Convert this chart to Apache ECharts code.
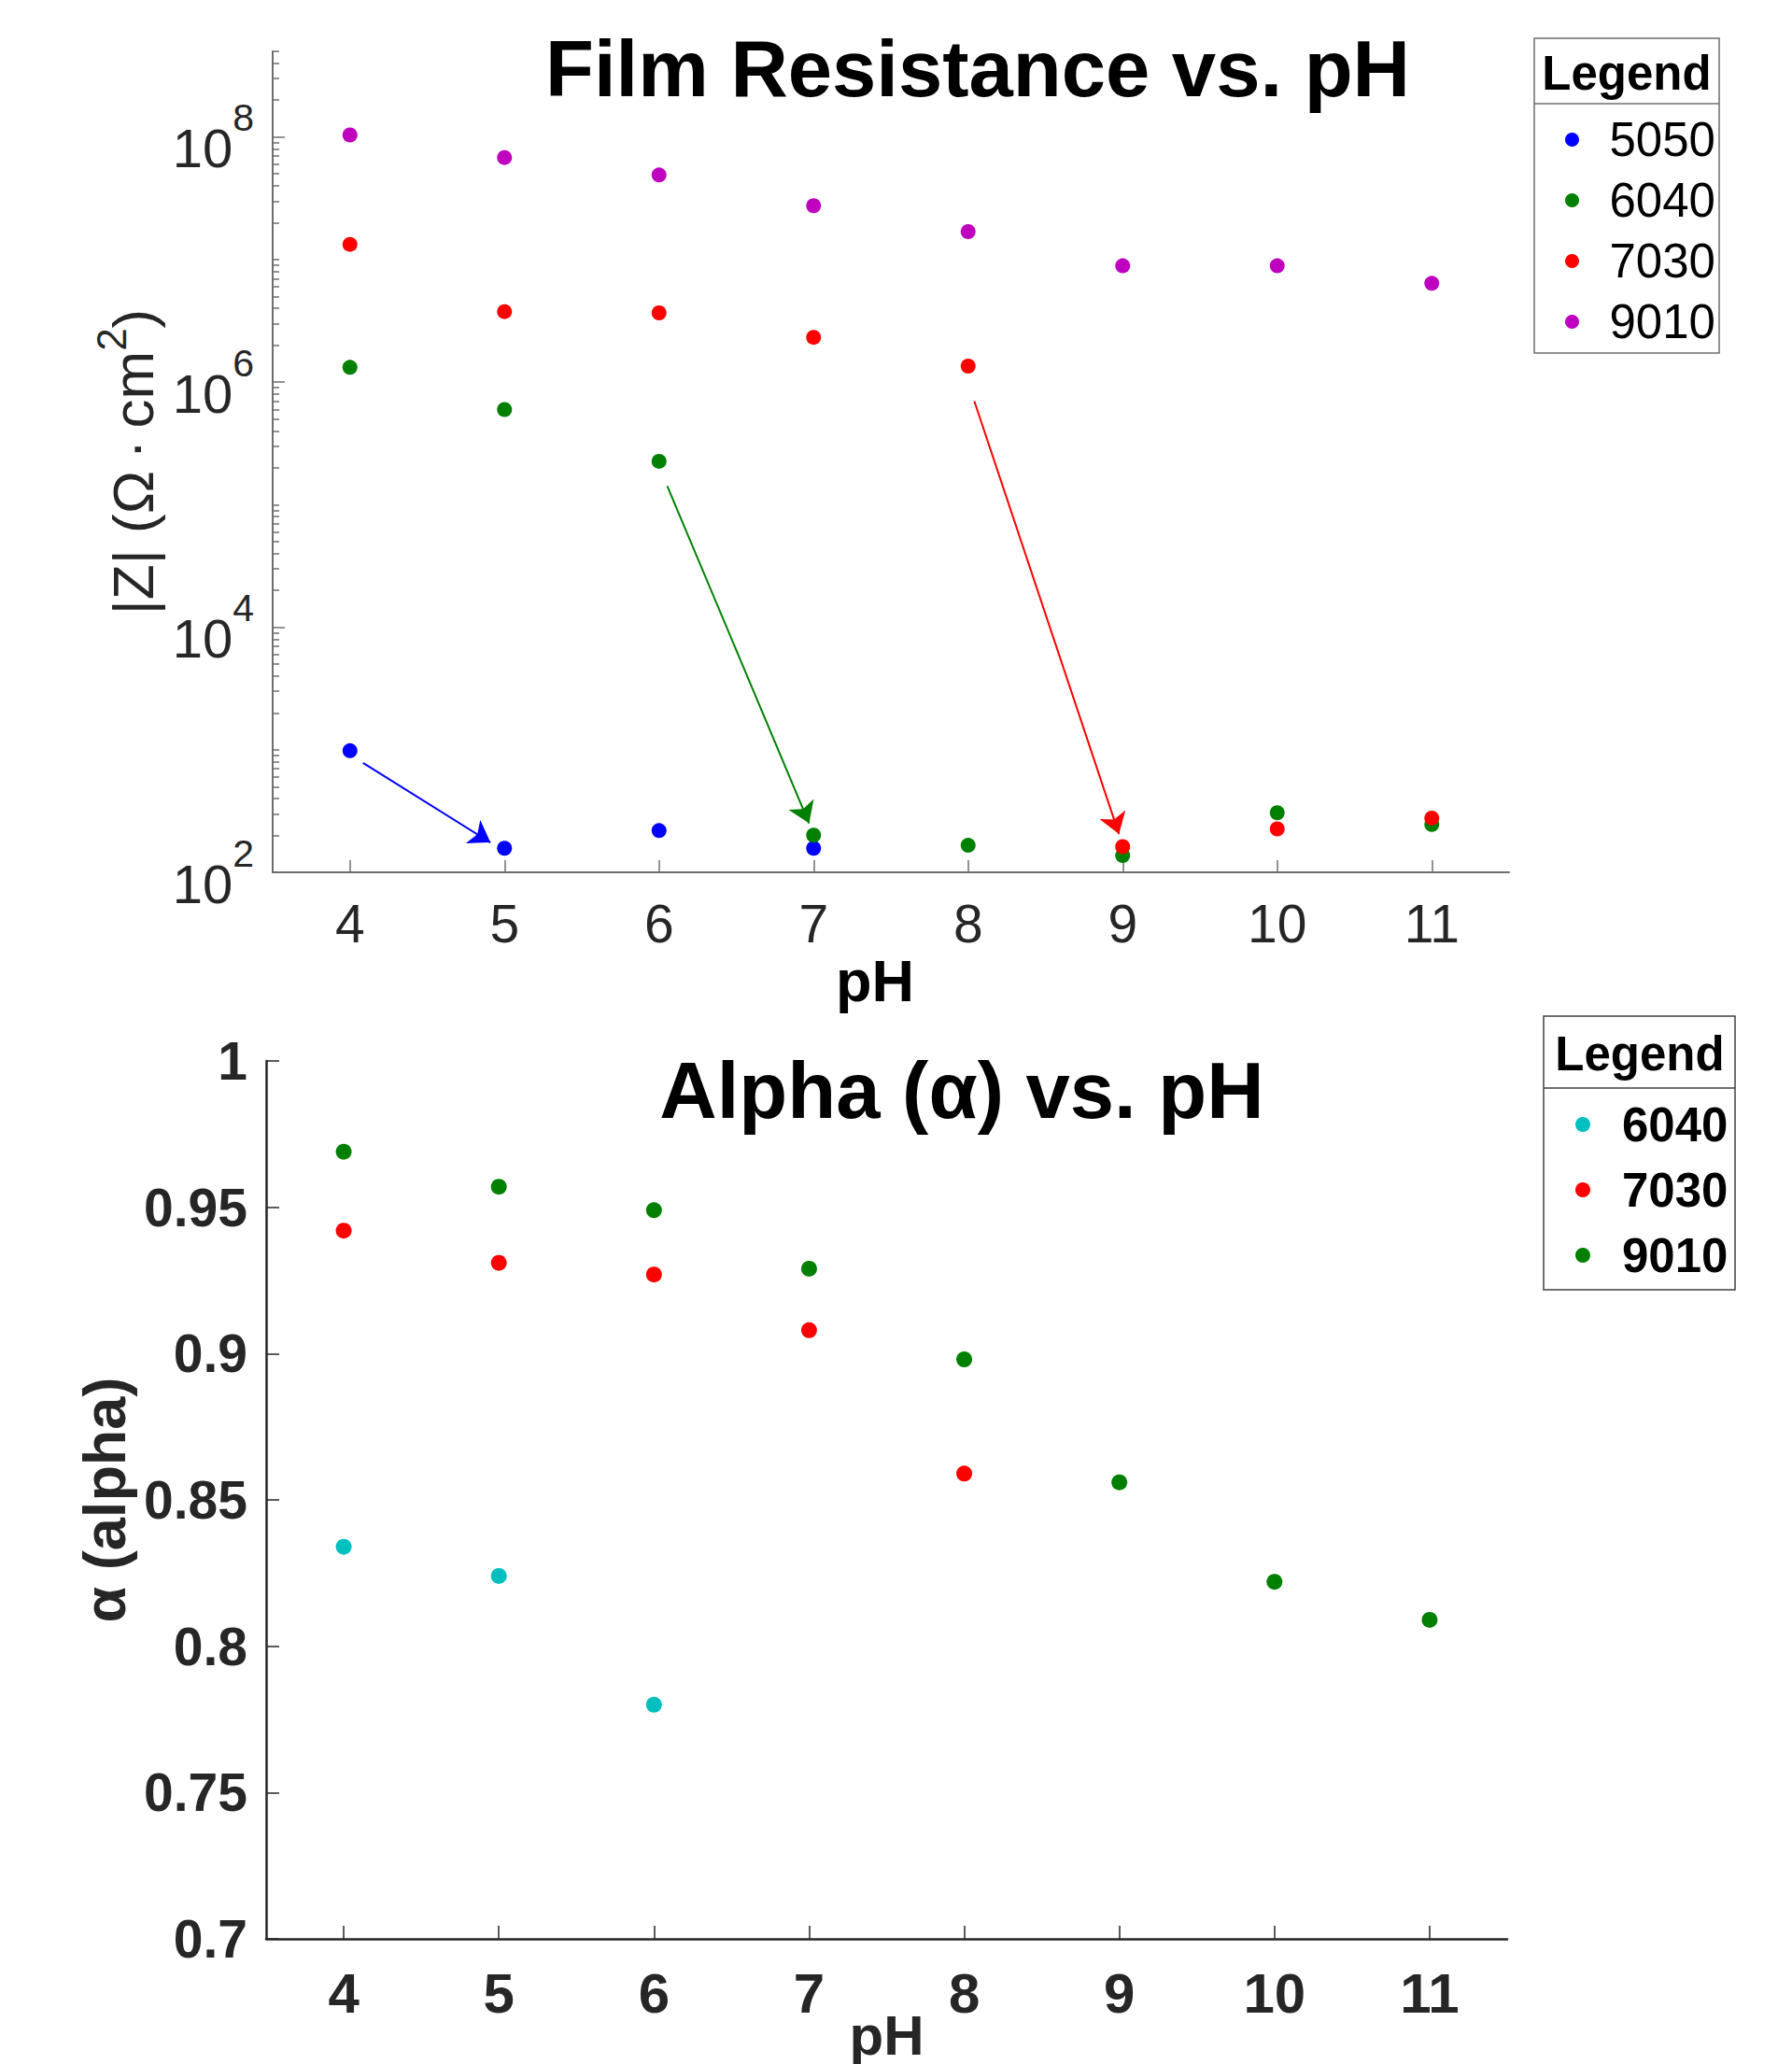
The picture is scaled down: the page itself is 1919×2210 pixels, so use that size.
<!DOCTYPE html>
<html><head><meta charset="utf-8">
<script src="https://cdn.jsdelivr.net/npm/echarts@6/dist/echarts.min.js"></script>
<style>html,body{margin:0;padding:0;background:#fff}#c{width:1919px;height:2210px}</style>
</head><body><div id="c"></div>
<script>
// ---------- data ----------
const pH = [4, 5, 6, 7, 8, 9, 10, 11];
const xTicks = [4, 5, 6, 7, 8, 9, 10, 11];
const zMajorTicks = [1e2, 1e4, 1e6, 1e8];
const alphaTicks = [0.7, 0.75, 0.8, 0.85, 0.9, 0.95, 1];

// Film resistance |Z| (Ohm cm^2)
const z5050 = [982, 157, 219, 157, null, null, null, null];
const z6040 = [1.32e6, 5.97e5, 2.26e5, 201, 166, 137, 306, 246];
const z7030 = [1.33e7, 3.76e6, 3.67e6, 2.32e6, 1.35e6, 162, 226, 277];
const z9010 = [1.04e8, 6.8e7, 4.9e7, 2.75e7, 1.69e7, 8.9e6, 8.9e6, 6.4e6];

// arrows [start, end] in data coords
const arrow5050 = [[4.085, 781], [4.909, 175]];
const arrow6040 = [[6.053, 1.42e5], [6.971, 251]];
const arrow7030 = [[8.04, 7.0e5], [8.976, 205]];

// Alpha
const a6040 = [0.834, 0.824, 0.780, null, null, null, null, null];
const a7030 = [0.942, 0.931, 0.927, 0.908, 0.859, null, null, null];
const a9010 = [0.969, 0.957, 0.949, 0.929, 0.898, 0.856, 0.822, 0.809];

// minor tick values for the log axis (2..9 x 10^n and odd decades)
const zMinorTicks = [];
for (let e = 2; e <= 8; e++) {
  for (let m = 1; m <= 9; m++) {
    const v = m * Math.pow(10, e);
    if (m === 1 && e % 2 === 0) continue;
    if (v <= 5e8) zMinorTicks.push(v);
  }
}

// ---------- helpers ----------
const FONT = "'Liberation Sans', Arial, Helvetica, sans-serif";
const pairs = (ys) => pH.map((x, i) => [x, ys[i]]).filter(d => d[1] != null);
const arrowLine = (a) => [[{ coord: a[0] }, { coord: a[1] }]];

const C = { blue: '#0000ff', green: '#008000', red: '#ff0000', mag: '#bf00bf', cyan: '#00bfbf' };

function scatter(name, data, color, x, y, size, arrow) {
  const s = {
    type: 'scatter', name, data: pairs(data), xAxisIndex: x, yAxisIndex: y,
    symbol: 'circle', symbolSize: size, itemStyle: { color, opacity: 1 },
    emphasis: { disabled: true }, animation: false, z: 3
  };
  if (arrow) {
    s.markLine = {
      silent: true, animation: false, symbol: ['none', 'arrow'], symbolSize: 22,
      lineStyle: { color, width: 2, type: 'solid' }, label: { show: false },
      emphasis: { disabled: true }, data: arrowLine(arrow)
    };
  }
  return s;
}

const topAxisColor = '#6e6e6e';
const botAxisColor = '#262626';

const option = {
  backgroundColor: '#fff',
  animation: false,
  grid: [
    { left: 292, right: 303, top: 55, height: 879, containLabel: false, outerBoundsMode: 'none' },
    { left: 285, right: 305, top: 1136, height: 940, containLabel: false, outerBoundsMode: 'none' }
  ],
  xAxis: [
    {
      gridIndex: 0, type: 'value', min: 3.5, max: 11.5,
      name: 'pH', nameLocation: 'middle', nameGap: 84, nameMoveOverlap: false,
      nameTextStyle: { fontFamily: FONT, fontSize: 63, fontWeight: 'bold', color: '#000', padding: [0, 34, 0, 0] },
      axisLine: { show: true, lineStyle: { color: topAxisColor, width: 2 } },
      axisTick: { show: true, inside: true, length: 13, customValues: xTicks, lineStyle: { color: topAxisColor, width: 1.5 } },
      axisLabel: { show: true, customValues: xTicks, margin: 26, fontFamily: FONT, fontSize: 57, color: '#262626' },
      splitLine: { show: false }
    },
    {
      gridIndex: 1, type: 'value', min: 3.5, max: 11.5,
      name: 'pH', nameLocation: 'middle', nameGap: 73, nameMoveOverlap: false,
      nameTextStyle: { fontFamily: FONT, fontSize: 60, fontWeight: 'bold', color: '#262626' },
      axisLine: { show: true, lineStyle: { color: botAxisColor, width: 2.5 } },
      axisTick: { show: true, inside: true, length: 14, customValues: xTicks, lineStyle: { color: botAxisColor, width: 1.5 } },
      axisLabel: { show: true, customValues: xTicks, margin: 28, fontFamily: FONT, fontSize: 60, fontWeight: 'bold', color: '#262626' },
      splitLine: { show: false }
    }
  ],
  yAxis: [
    {
      gridIndex: 0, type: 'log', logBase: 10, min: 1e2, max: 5e8,
      name: '{a||Z| (Ω\u2009·\u2009cm}{s|2}{a|)}', nameLocation: 'middle', nameGap: 119, nameMoveOverlap: false,
      nameTextStyle: {
        fontFamily: FONT, color: '#262626',
        rich: {
          a: { fontFamily: FONT, fontSize: 62, color: '#262626', lineHeight: 76, verticalAlign: 'bottom' },
          s: { fontFamily: FONT, fontSize: 44, color: '#262626', lineHeight: 76, verticalAlign: 'top' }
        }
      },
      axisLine: { show: true, lineStyle: { color: topAxisColor, width: 2 } },
      axisTick: { show: true, inside: true, length: 13, customValues: zMajorTicks, lineStyle: { color: topAxisColor, width: 1.5 } },
      axisLabel: {
        show: true, customValues: zMajorTicks, margin: 20,
        formatter: (v) => '{b|10}{s|' + Math.round(Math.log10(v)) + '}',
        rich: {
          b: { fontFamily: FONT, fontSize: 58, color: '#262626', lineHeight: 82, verticalAlign: 'bottom' },
          s: { fontFamily: FONT, fontSize: 41, color: '#262626', lineHeight: 82, verticalAlign: 'top' }
        }
      },
      splitLine: { show: false }
    },
    {
      gridIndex: 0, type: 'log', logBase: 10, min: 1e2, max: 5e8, position: 'left',
      axisLine: { show: false },
      axisTick: { show: true, inside: true, length: 7, customValues: zMinorTicks, lineStyle: { color: topAxisColor, width: 1.5 } },
      axisLabel: { show: false },
      splitLine: { show: false }
    },
    {
      gridIndex: 1, type: 'value', min: 0.7, max: 1, interval: 0.05,
      name: 'α (alpha)', nameLocation: 'middle', nameGap: 142, nameMoveOverlap: false,
      nameTextStyle: { fontFamily: FONT, fontSize: 63, fontWeight: 'bold', color: '#262626' },
      axisLine: { show: true, lineStyle: { color: botAxisColor, width: 2.5 } },
      axisTick: { show: true, inside: true, length: 14, customValues: alphaTicks, lineStyle: { color: botAxisColor, width: 1.5 } },
      axisLabel: { show: true, customValues: alphaTicks, margin: 20, fontFamily: FONT, fontSize: 57, fontWeight: 'bold', color: '#262626',
        formatter: (v) => String(Math.round(v * 100) / 100) },
      splitLine: { show: false }
    }
  ],
  legend: [
    {
      orient: 'vertical', left: 1676, top: 117, padding: 0, itemGap: 0,
      itemWidth: 70, itemHeight: 15, icon: 'circle', selectedMode: false,
      data: ['5050', '6040', '7030', '9010'],
      textStyle: { fontFamily: FONT, fontSize: 51, color: '#000', lineHeight: 65 }
    },
    {
      orient: 'vertical', left: 1687, top: 1169, padding: 0, itemGap: 0,
      itemWidth: 74, itemHeight: 16, icon: 'circle', selectedMode: false,
      data: ['6040 ', '7030 ', '9010 '],
      formatter: (n) => n.trim(),
      textStyle: { fontFamily: FONT, fontSize: 51, fontWeight: 'bold', color: '#000', lineHeight: 70 }
    }
  ],
  graphic: [
    { type: 'text', x: 1047, y: 73, silent: true,
      style: { text: 'Film Resistance vs. pH', x: 0, y: 0, align: 'center', verticalAlign: 'middle', font: 'bold 85px ' + FONT, fill: '#000' } },
    { type: 'text', x: 1030, y: 1167, silent: true,
      style: { text: 'Alpha (α) vs. pH', x: 0, y: 0, align: 'center', verticalAlign: 'middle', font: 'bold 85px ' + FONT, fill: '#000' } },
    { type: 'rect', silent: true, z: 0, shape: { x: 1643, y: 41, width: 198, height: 337 },
      style: { fill: 'transparent', stroke: '#6e6e6e', lineWidth: 1.5 } },
    { type: 'line', silent: true, z: 0, shape: { x1: 1643, y1: 111, x2: 1841, y2: 111 },
      style: { stroke: '#6e6e6e', lineWidth: 1.5 } },
    { type: 'text', x: 1742, y: 78, silent: true,
      style: { text: 'Legend', x: 0, y: 0, align: 'center', verticalAlign: 'middle', font: 'bold 51px ' + FONT, fill: '#000' } },
    { type: 'rect', silent: true, z: 0, shape: { x: 1653, y: 1088, width: 205, height: 293 },
      style: { fill: 'transparent', stroke: '#404040', lineWidth: 1.5 } },
    { type: 'line', silent: true, z: 0, shape: { x1: 1653, y1: 1165, x2: 1858, y2: 1165 },
      style: { stroke: '#404040', lineWidth: 1.5 } },
    { type: 'text', x: 1756, y: 1128, silent: true,
      style: { text: 'Legend', x: 0, y: 0, align: 'center', verticalAlign: 'middle', font: 'bold 51px ' + FONT, fill: '#000' } }
  ],
  series: [
    scatter('5050', z5050, C.blue, 0, 0, 16, arrow5050),
    scatter('6040', z6040, C.green, 0, 0, 16, arrow6040),
    scatter('7030', z7030, C.red, 0, 0, 16, arrow7030),
    scatter('9010', z9010, C.mag, 0, 0, 16, null),
    scatter('6040 ', a6040, C.cyan, 1, 2, 17, null),
    scatter('7030 ', a7030, C.red, 1, 2, 17, null),
    scatter('9010 ', a9010, C.green, 1, 2, 17, null)
  ]
};

const chart = echarts.init(document.getElementById('c'), null, { renderer: 'svg', width: 1919, height: 2210 });
chart.setOption(option);
</script>
</body></html>
